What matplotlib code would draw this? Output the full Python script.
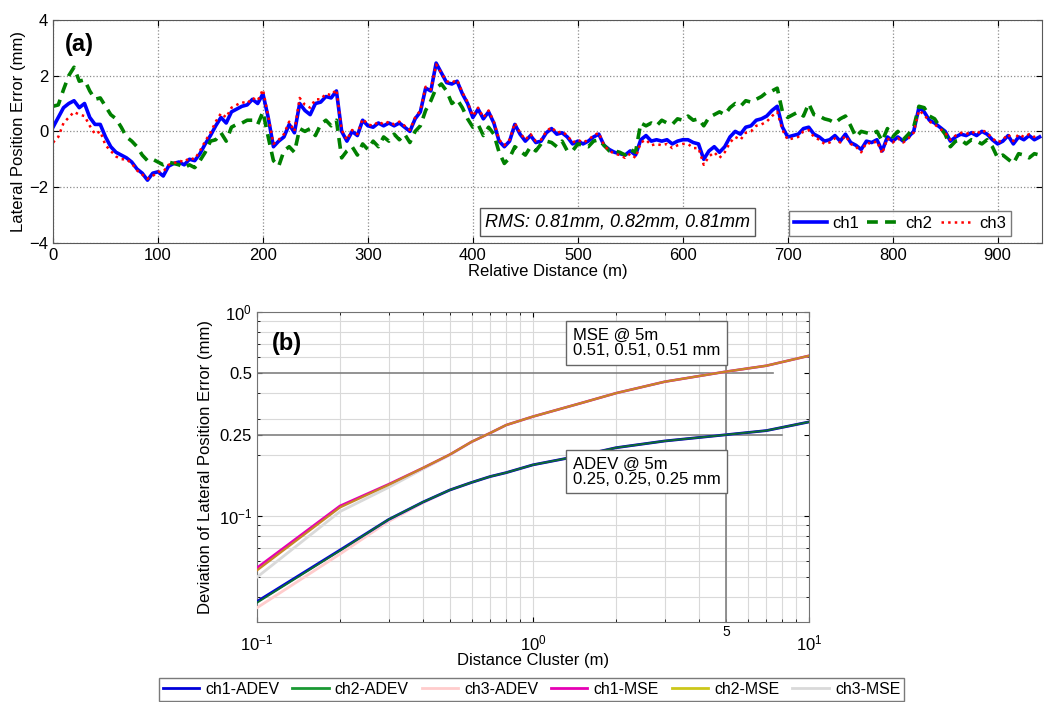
import matplotlib
matplotlib.use("Agg")
import matplotlib.pyplot as plt
import numpy as np
from matplotlib.ticker import NullFormatter, LogLocator

plt.rcParams['font.family'] = ['Liberation Sans', 'DejaVu Sans']
plt.rcParams['mathtext.fontset'] = 'custom'
plt.rcParams['mathtext.rm'] = 'Liberation Sans'
plt.rcParams['mathtext.it'] = 'Liberation Sans:italic'

# (a) lateral position error, one value every 5 m
distance = np.arange(0, 945, 5)
ch1 = [0.15, 0.5, 0.85, 1.0, 1.1, 0.85, 1.0, 0.5, 0.25, 0.25,
       -0.2, -0.55, -0.75, -0.85, -0.95, -1.1, -1.35, -1.5, -1.75, -1.5,
       -1.45, -1.6, -1.25, -1.15, -1.1, -1.2, -1.0, -1.05, -0.8, -0.45,
       -0.15, 0.2, 0.5, 0.3, 0.7, 0.8, 0.9, 0.95,
       1.15, 1.0, 1.35, 0.5, -0.55, -0.35, -0.2, 0.25, -0.05, 1.0,
       0.75, 0.6, 1.0, 1.05, 1.25, 1.2, 1.45, 0.0, -0.35, 0.0,
       -0.15, 0.4, 0.2, 0.15, 0.3, 0.2, 0.3, 0.2, 0.3, 0.15,
       0.0, 0.45, 0.7, 1.55, 1.45, 2.45, 2.1,
       1.75, 1.7, 1.8, 1.35, 1.0, 0.5, 0.8, 0.45, 0.7, 0.3,
       -0.35, -0.55, -0.35, 0.25, -0.1, -0.35, -0.15, -0.4, -0.35, -0.05,
       0.1, -0.1, -0.05, -0.2, -0.45, -0.35, -0.45, -0.35, -0.2, -0.1,
       -0.5, -0.65, -0.75, -0.8, -0.85, -0.7, -0.85,
       -0.3, -0.15, -0.35, -0.3, -0.35, -0.3, -0.45, -0.35, -0.3, -0.3,
       -0.4, -0.45, -1.0, -0.7, -0.55, -0.75, -0.55, -0.2, 0.0, -0.1,
       0.15, 0.2, 0.4, 0.45, 0.55, 0.75, 0.9, 0.15, -0.2, -0.15,
       -0.1, 0.1, 0.15, -0.1, -0.2, -0.35, -0.3,
       -0.15, -0.35, -0.1, -0.4, -0.5, -0.65, -0.35, -0.4, -0.3, -0.7,
       -0.2, -0.35, -0.2, -0.35, -0.2, 0.0, 0.85, 0.7, 0.4, 0.3,
       0.15, 0.0, -0.35, -0.2, -0.1, -0.15, -0.05, -0.15, 0.0, -0.1,
       -0.3, -0.45, -0.35, -0.15, -0.45, -0.2, -0.3, -0.15, -0.3, -0.2]
ch2 = [0.9, 0.95, 1.5, 2.0, 2.3, 1.8, 1.85, 1.45, 1.15, 1.2,
       0.9, 0.6, 0.45, 0.15, -0.2, -0.35, -0.55, -0.85, -1.05, -1.0,
       -1.1, -1.2, -1.1, -1.15, -1.2, -1.3, -1.2, -1.3, -1.05, -0.75,
       -0.35, -0.3, -0.05, -0.35, 0.15, 0.25, 0.3, 0.4,
       0.4, 0.25, 0.7, -0.2, -1.05, -1.25, -0.7, -0.55, -0.75, 0.1,
       0.0, 0.1, -0.15, 0.25, 0.4, 0.2, 0.4, -0.95, -0.7, -0.55,
       -0.85, -0.45, -0.65, -0.35, -0.55, -0.2, -0.35, -0.1, -0.3, -0.1,
       -0.4, 0.0, 0.2, 0.75, 1.1, 1.55, 1.7,
       1.45, 1.0, 1.15, 0.85, 0.45, 0.15, 0.25, -0.15, 0.15, -0.1,
       -0.75, -1.15, -0.95, -0.55, -0.7, -0.85, -0.55, -0.7, -0.45, -0.35,
       -0.4, -0.55, -0.35, -0.7, -0.7, -0.45, -0.5, -0.55, -0.35, -0.3,
       -0.5, -0.7, -0.7, -0.75, -0.85, -0.65, -0.75,
       0.3, 0.2, 0.3, 0.2, 0.4, 0.3, 0.25, 0.45, 0.4, 0.55,
       0.4, 0.45, 0.2, 0.5, 0.6, 0.7, 0.6, 0.85, 1.0, 0.9,
       1.1, 1.05, 1.15, 1.25, 1.4, 1.45, 1.55, 0.7, 0.5, 0.6,
       0.7, 0.55, 1.0, 0.6, 0.55, 0.45, 0.4,
       0.3, 0.45, 0.55, 0.2, -0.2, 0.0, -0.05, -0.1, 0.0, -0.35,
       0.1, -0.2, 0.0, -0.3, -0.1, 0.15, 0.9, 0.85, 0.55, 0.45,
       0.15, -0.1, -0.55, -0.35, -0.3, -0.45, -0.3, -0.35, -0.45, -0.3,
       -0.55, -0.95, -0.85, -1.0, -1.15, -0.8, -0.85, -0.95, -0.8, -0.85]
ch3 = [-0.4, -0.2, 0.3, 0.5, 0.7, 0.6, 0.55, 0.2, -0.1, 0.0,
       -0.5, -0.7, -0.9, -1.0, -1.0, -1.15, -1.4, -1.55, -1.7, -1.6,
       -1.45, -1.45, -1.2, -1.15, -1.05, -1.1, -0.95, -1.0, -0.7, -0.35,
       -0.05, 0.35, 0.65, 0.5, 0.85, 0.95, 1.05, 1.0,
       1.2, 1.1, 1.5, 0.55, -0.45, -0.3, -0.1, 0.35, 0.0, 1.2,
       0.95, 0.85, 1.15, 1.15, 1.35, 1.3, 1.5, 0.05, -0.3, 0.05,
       -0.1, 0.45, 0.25, 0.2, 0.35, 0.25, 0.35, 0.25, 0.35, 0.2,
       0.05, 0.5, 0.75, 1.6, 1.5, 2.4, 2.1,
       1.8, 1.75, 1.85, 1.4, 1.05, 0.55, 0.85, 0.5, 0.75, 0.35,
       -0.3, -0.5, -0.3, 0.3, -0.05, -0.3, -0.1, -0.35, -0.3, 0.0,
       0.15, -0.05, 0.0, -0.15, -0.4, -0.3, -0.4, -0.3, -0.15, -0.05,
       -0.5, -0.7, -0.8, -0.85, -0.95, -0.8, -0.95,
       -0.4, -0.3, -0.5, -0.45, -0.5, -0.45, -0.6, -0.5, -0.45, -0.45,
       -0.6, -0.6, -1.2, -0.9, -0.75, -0.95, -0.75, -0.4, -0.2, -0.3,
       -0.05, 0.0, 0.2, 0.25, 0.35, 0.55, 0.7, 0.05, -0.3, -0.25,
       -0.2, 0.0, 0.05, -0.2, -0.3, -0.45, -0.4,
       -0.25, -0.4, -0.15, -0.45, -0.55, -0.75, -0.4, -0.45, -0.35, -0.8,
       -0.25, -0.4, -0.25, -0.4, -0.25, -0.05, 0.75, 0.6, 0.35, 0.25,
       0.1, -0.05, -0.3, -0.15, -0.05, -0.1, 0.0, -0.1, 0.05, -0.05,
       -0.25, -0.4, -0.3, -0.1, -0.35, -0.1, -0.2, -0.1, -0.2, -0.15]
rms_text = "RMS: 0.81mm, 0.82mm, 0.81mm"

# (b) deviation vs distance cluster
cluster = [0.1, 0.2, 0.3, 0.4, 0.5, 0.6, 0.7, 0.8, 1.0, 1.5, 2.0, 3.0, 5.0, 7.0, 10.0]
ch1_adev = [0.038, 0.068, 0.096, 0.117, 0.134, 0.146, 0.156, 0.163, 0.178, 0.198, 0.216, 0.233, 0.25, 0.262, 0.289]
ch2_adev = [0.0375, 0.0675, 0.096, 0.117, 0.134, 0.146, 0.156, 0.163, 0.178, 0.198, 0.216, 0.233, 0.25, 0.262, 0.289]
ch3_adev = [0.0354, 0.065, 0.094, 0.116, 0.134, 0.146, 0.156, 0.163, 0.178, 0.198, 0.216, 0.233, 0.25, 0.262, 0.289]
ch1_mse = [0.0556, 0.112, 0.143, 0.172, 0.200, 0.231, 0.255, 0.279, 0.307, 0.358, 0.40, 0.455, 0.51, 0.545, 0.61]
ch2_mse = [0.054, 0.110, 0.142, 0.172, 0.200, 0.231, 0.255, 0.279, 0.307, 0.358, 0.40, 0.455, 0.51, 0.545, 0.61]
ch3_mse = [0.050, 0.105, 0.138, 0.170, 0.199, 0.231, 0.255, 0.279, 0.307, 0.358, 0.40, 0.455, 0.51, 0.545, 0.61]

fig = plt.figure(figsize=(10.44, 7.02), dpi=100)

# ---------- (a) ----------
ax = fig.add_axes([0.0508, 0.654, 0.947, 0.3177])
ax.plot(distance, ch1, '-', color=(0, 0, 1), lw=2.6, label="ch1")
ax.plot(distance, ch2, '--', color=(0, 0.5, 0), lw=2.6, label="ch2", dashes=(3, 2))
ax.plot(distance, ch3, ':', color=(1, 0, 0), lw=1.8, label="ch3")
ax.set_xlim(0, 942)
ax.set_ylim(-4, 4)
ax.set_xticks(range(0, 1000, 100))
ax.set_yticks([-4, -2, 0, 2, 4])
ax.tick_params(direction='in', labelsize=12, top=True, right=True, length=4)
ax.grid(True, linestyle=':', color='0.55', lw=0.9)
ax.set_xlabel("Relative Distance (m)", fontsize=12, labelpad=1)
ax.set_ylabel("Lateral Position Error (mm)", fontsize=12, labelpad=2)
for s in ax.spines.values():
    s.set_color('0.35')
ax.text(0.012, 0.888, "(a)", transform=ax.transAxes, fontsize=17, fontweight='bold', va='center')
ax.text(0.437, 0.092, rms_text, transform=ax.transAxes, fontsize=13, style='italic', va='center',
        bbox=dict(boxstyle='square,pad=0.3', fc='white', ec='0.35', lw=1))
leg = ax.legend(loc='lower right', bbox_to_anchor=(0.969, 0.03), ncol=3, fontsize=12,
                frameon=True, fancybox=False, edgecolor='0.35', handlelength=2.0,
                borderpad=0.3, columnspacing=0.5, handletextpad=0.3, borderaxespad=0)
leg.get_frame().set_linewidth(1)

# ---------- (b) ----------
bx = fig.add_axes([0.246, 0.114, 0.529, 0.4416])
bx.set_xscale('log')
bx.set_yscale('log')
bx.plot(cluster, ch3_adev, color=(1, 0.8, 0.8), lw=2.0, label="ch3-ADEV", zorder=3)
bx.plot(cluster, ch1_adev, color=(0, 0, 0.85), lw=2.0, label="ch1-ADEV", zorder=4)
bx.plot(cluster, ch2_adev, color=(0.05, 0.42, 0.2), lw=1.4, label="ch2-ADEV", zorder=5)
bx.plot(cluster, ch3_mse, color=(0.85, 0.85, 0.85), lw=2.0, label="ch3-MSE", zorder=3)
bx.plot(cluster, ch1_mse, color=(0.9, 0.0, 0.7), lw=1.8, label="ch1-MSE", zorder=4)
bx.plot(cluster, ch2_mse, color=(0.78, 0.52, 0.15), lw=1.6, label="ch2-MSE", zorder=5)

bx.set_xlim(0.1, 10)
bx.set_ylim(0.0302, 1)
bx.plot([0.1, 7.4], [0.5, 0.5], color='0.5', lw=1.2, zorder=2)
bx.plot([0.1, 8.0], [0.25, 0.25], color='0.5', lw=1.2, zorder=2)
bx.plot([5, 5], [0.0302, 0.575], color='0.5', lw=1.2, zorder=2)

bx.set_xticks([0.1, 1, 10])
bx.set_xticklabels([r"$10^{-1}$", r"$10^{0}$", r"$10^{1}$"])
bx.xaxis.set_minor_locator(LogLocator(base=10, subs=np.arange(2, 10)))
bx.xaxis.set_minor_formatter(NullFormatter())
bx.set_yticks([0.1, 0.25, 0.5, 1])
bx.set_yticklabels([r"$10^{-1}$", "0.25", "0.5", r"$10^{0}$"])
bx.yaxis.set_minor_locator(LogLocator(base=10, subs=np.arange(2, 10)))
bx.yaxis.set_minor_formatter(NullFormatter())
bx.tick_params(which='both', direction='in', top=True, right=True, labelsize=12)
bx.tick_params(axis='x', pad=8)
bx.grid(True, which='both', color='0.85', lw=0.8, zorder=0)
for i, gl in enumerate(bx.get_ygridlines()):
    if i in (1, 2):
        gl.set_visible(False)
bx.text(5, 0.0292, "5", ha='center', va='top', fontsize=10)
for s in bx.spines.values():
    s.set_color('0.45')
bx.set_xlabel("Distance Cluster (m)", fontsize=12, labelpad=0)
bx.set_ylabel("Deviation of Lateral Position Error (mm)", fontsize=12, labelpad=4)
bx.text(0.027, 0.897, "(b)", transform=bx.transAxes, fontsize=17, fontweight='bold', va='center')
box_style = dict(boxstyle='square,pad=0.4', fc='white', ec='0.4', lw=1)
bx.text(0.572, 0.90, "MSE @ 5m\n0.51, 0.51, 0.51 mm", transform=bx.transAxes, fontsize=12,
        va='center', ha='left', bbox=box_style, linespacing=1.0, zorder=6)
bx.text(0.572, 0.485, "ADEV @ 5m\n0.25, 0.25, 0.25 mm", transform=bx.transAxes, fontsize=12,
        va='center', ha='left', bbox=box_style, linespacing=1.0, zorder=6)

# legend colours as in the reference key
order = ["ch1-ADEV", "ch2-ADEV", "ch3-ADEV", "ch1-MSE", "ch2-MSE", "ch3-MSE"]
key_colors = [(0, 0, 0.85), (0.1, 0.6, 0.2), (1, 0.8, 0.8), (0.9, 0.0, 0.7), (0.8, 0.78, 0.1), (0.85, 0.85, 0.85)]
handles = [plt.Line2D([], [], color=c, lw=2) for c in key_colors]
leg2 = fig.legend(handles, order, loc='center', bbox_to_anchor=(0.509, 0.018), ncol=6,
                  fontsize=11.4, frameon=True, fancybox=False, edgecolor='0.35',
                  handlelength=2.3, borderpad=0.25, columnspacing=0.8, handletextpad=0.4)
leg2.get_frame().set_linewidth(1)

fig.savefig("out.png", dpi=100)
